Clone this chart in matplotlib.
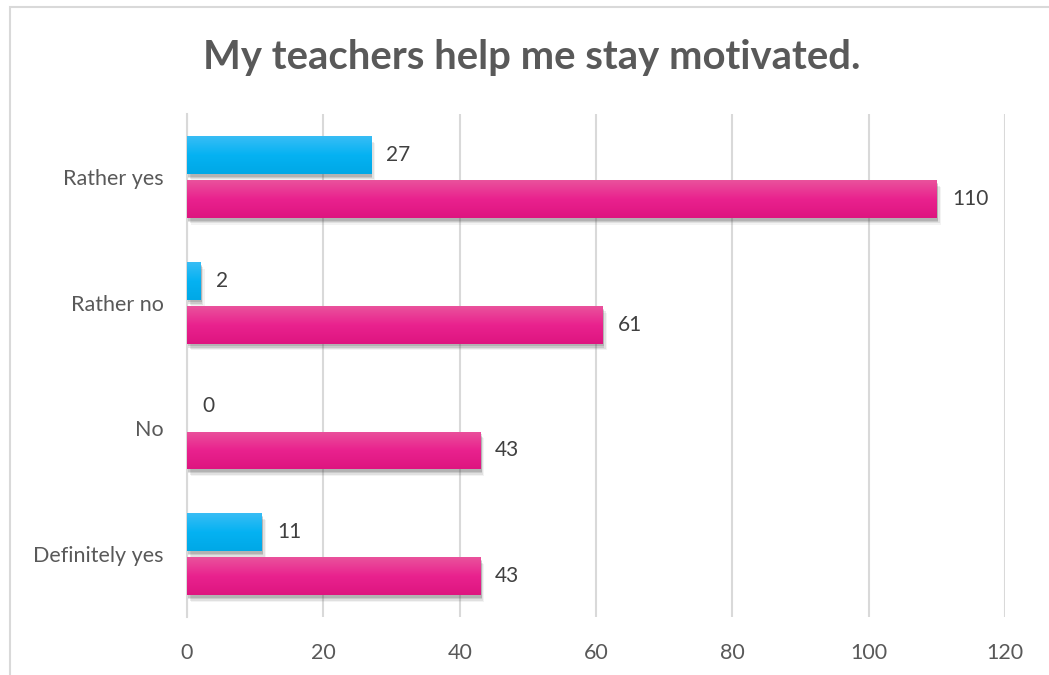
import numpy as np
from matplotlib import pyplot as plt
from matplotlib import patheffects as pe
from matplotlib.colors import LinearSegmentedColormap
from matplotlib.patches import Rectangle

plt.rcParams['font.family'] = ['Lato', 'DejaVu Sans']

CATEGORIES = ['Definitely yes', 'No', 'Rather no', 'Rather yes']
BLUE_VALUES = [11, 0, 2, 27]
PINK_VALUES = [43, 43, 61, 110]
XTICKS = [0, 20, 40, 60, 80, 100, 120]

TEXT = '#595959'
GRID = '#D9D9D9'
BAR_H = 0.30
OFFSET = 0.175

# top-to-bottom gradient stops for each series
BLUE_GRAD = ['#38BDF5', '#05B2F2', '#00A8E6']
PINK_GRAD = ['#EA529C', '#E9228E', '#DE1580']


def gradient_bars(ax, ypos, values, stops):
    cmap = LinearSegmentedColormap.from_list('g', stops)
    grad = np.linspace(0, 1, 64).reshape(-1, 1)
    bars = ax.barh(ypos, values, height=BAR_H, color=stops[1], zorder=2)
    for bar in bars:
        if bar.get_width() <= 0:
            bar.set_visible(False)
            continue
        # stacked soft shadows give a blurred drop shadow
        shadows = [pe.SimplePatchShadow(offset=(dx, dy), alpha=a,
                                        shadow_rgbFace='#404040')
                   for dx, dy, a in ((3, -5, 0.06), (2, -4, 0.10),
                                     (1, -3, 0.14), (1, -2, 0.16))]
        bar.set_path_effects(shadows + [pe.Normal()])
        x0, y0 = bar.get_x(), bar.get_y()
        w, h = bar.get_width(), bar.get_height()
        im = ax.imshow(grad, cmap=cmap, aspect='auto', zorder=3,
                       extent=(x0, x0 + w, y0, y0 + h), origin='upper')
        im.set_clip_path(bar)
    return bars


fig = plt.figure(figsize=(10.49, 6.75), dpi=100)
ax = fig.add_axes([0.1783, 0.086, 0.7798, 0.745])

# outer chart border
fig.patches.append(Rectangle((10 / 1049, -0.1), 1.2, 1.1 - 7 / 675,
                             transform=fig.transFigure, fill=False,
                             edgecolor=GRID, lw=1.5))

y = np.arange(len(CATEGORIES))
gradient_bars(ax, y + OFFSET, BLUE_VALUES, BLUE_GRAD)
gradient_bars(ax, y - OFFSET, PINK_VALUES, PINK_GRAD)

for yi, v in zip(y, BLUE_VALUES):
    ax.annotate(str(v), (v, yi + OFFSET), xytext=(15, 0),
                textcoords='offset pixels', va='center', ha='left',
                fontsize=15, color='#404040')
for yi, v in zip(y, PINK_VALUES):
    ax.annotate(str(v), (v, yi - OFFSET), xytext=(15, 0),
                textcoords='offset pixels', va='center', ha='left',
                fontsize=15, color='#404040')

ax.set_xlim(0, 120)
ax.set_ylim(-0.5, 3.5)
ax.set_xticks(XTICKS)
ax.set_yticks(y)
ax.set_yticklabels(CATEGORIES)
ax.tick_params(length=0, labelsize=15.5, colors=TEXT)
ax.tick_params(axis='x', pad=19)
ax.tick_params(axis='y', pad=17)
ax.xaxis.grid(True, color=GRID, lw=1.5, zorder=0)
ax.set_axisbelow(True)
for side in ('top', 'right', 'bottom'):
    ax.spines[side].set_visible(False)
ax.spines['left'].set_color(GRID)
ax.spines['left'].set_linewidth(1.5)

fig.text(0.507, 0.915, 'My teachers help me stay motivated.', ha='center',
         va='center', fontsize=28.8, fontweight='bold', color=TEXT)

fig.savefig('out.png', dpi=100)
